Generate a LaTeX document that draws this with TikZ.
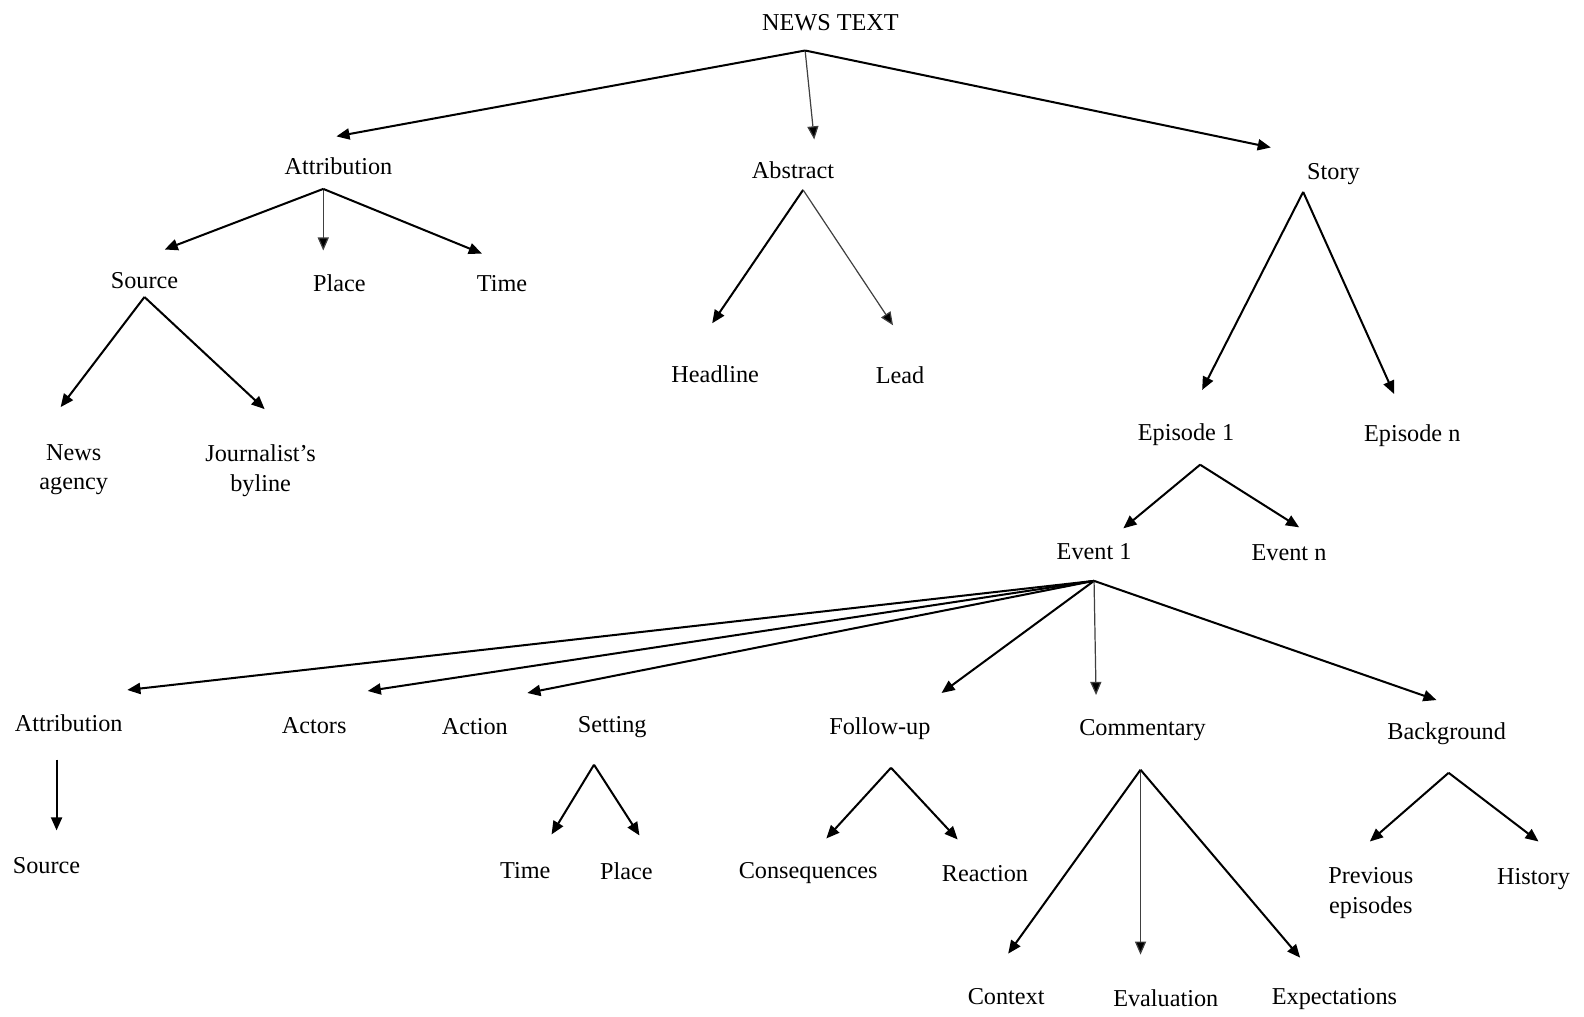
\documentclass[tikz,border=0pt]{standalone}
\usepackage{fontspec}
\setmainfont{Liberation Serif}
\usetikzlibrary{arrows.meta}
\begin{document}
\begin{tikzpicture}[x=0.5pt,y=-0.5pt,
  lbl/.style={inner sep=0pt,anchor=center,font=\fontsize{12}{14.5}\selectfont,align=center},
  arr/.style={line width=1pt,-{Triangle[length=6.5pt,width=5.5pt]}},
  thinarr/.style={line width=0.6pt,draw=black!75,-{Triangle[length=6.5pt,width=5.5pt,fill=black]}}]
\useasboundingbox (0,0) rectangle (1568,1006);
% nodes
\node[lbl] (news) at (822,22) {NEWS TEXT};
\node[lbl] (attr) at (335,165) {Attribution};
\node[lbl] (abs) at (785,168) {Abstract};
\node[lbl] (story) at (1320,172) {Story};
\node[lbl] (src) at (143,278) {Source};
\node[lbl] (place) at (336,280) {Place};
\node[lbl] (time) at (497,281) {Time};
\node[lbl] (head) at (708,370) {Headline};
\node[lbl] (lead) at (891,371) {Lead};
\node[lbl] (agency) at (73,465) {News\\agency};
\node[lbl] (jour) at (258,466) {Journalist’s\\byline};
\node[lbl] (ep1) at (1174,430) {Episode 1};
\node[lbl] (epn) at (1398,431) {Episode n};
\node[lbl] (ev1) at (1083,546) {Event 1};
\node[lbl] (evn) at (1276,547) {Event n};
\node[lbl] (attr2) at (68,716) {Attribution};
\node[lbl] (actors) at (311,718) {Actors};
\node[lbl] (action) at (470,719) {Action};
\node[lbl] (setting) at (606,720) {Setting};
\node[lbl] (follow) at (871,721) {Follow-up};
\node[lbl] (comm) at (1131,723) {Commentary};
\node[lbl] (backg) at (1432,726) {Background};
\node[lbl] (src2) at (46,857) {Source};
\node[lbl] (time2) at (520,862) {Time};
\node[lbl] (place2) at (620,862) {Place};
\node[lbl] (cons) at (800,864) {Consequences};
\node[lbl] (react) at (975,865) {Reaction};
\node[lbl] (context) at (996,987) {Context};
\node[lbl] (eval) at (1154,988) {Evaluation};
\node[lbl] (expect) at (1321,989) {Expectations};
\node[lbl] (prev) at (1357,884) {Previous\\episodes};
\node[lbl] (hist) at (1518,870) {History};
% connectors
\draw[arr] ([shift={(-25,28)}]news.center) -- ([shift={(-2,-30)}]attr.center);
\draw[thinarr] ([shift={(-25,28)}]news.center) -- ([shift={(21,-30)}]abs.center);
\draw[arr] ([shift={(-25,28)}]news.center) -- ([shift={(-62,-26)}]story.center);
\draw[arr] ([shift={(-15,22)}]attr.center) -- ([shift={(20,-31)}]src.center);
\draw[thinarr] ([shift={(-15,22)}]attr.center) -- ([shift={(-16,-32)}]place.center);
\draw[arr] ([shift={(-15,22)}]attr.center) -- ([shift={(-20,-30)}]time.center);
\draw[arr] ([shift={(10,20)}]abs.center) -- ([shift={(-3,-50)}]head.center);
\draw[thinarr] ([shift={(10,20)}]abs.center) -- ([shift={(-7,-49)}]lead.center);
\draw[arr] ([shift={(0,16)}]src.center) -- ([shift={(-13,-62)}]agency.center);
\draw[arr] ([shift={(0,16)}]src.center) -- ([shift={(4,-61)}]jour.center);
\draw[arr] ([shift={(-30,18)}]story.center) -- ([shift={(16,-44)}]ep1.center);
\draw[arr] ([shift={(-30,18)}]story.center) -- ([shift={(-18,-41)}]epn.center);
\draw[arr] ([shift={(14,30)}]ep1.center) -- ([shift={(29,-23)}]ev1.center);
\draw[arr] ([shift={(14,30)}]ep1.center) -- ([shift={(10,-25)}]evn.center);
\draw[arr] ([shift={(0,29)}]ev1.center) -- ([shift={(58,-33)}]attr2.center);
\draw[arr] ([shift={(0,29)}]ev1.center) -- ([shift={(53,-34)}]actors.center);
\draw[arr] ([shift={(0,29)}]ev1.center) -- ([shift={(52,-33)}]action.center);
\draw[arr] ([shift={(0,29)}]ev1.center) -- ([shift={(61,-35)}]follow.center);
\draw[thinarr] ([shift={(0,29)}]ev1.center) -- ([shift={(-46,-35)}]comm.center);
\draw[arr] ([shift={(0,29)}]ev1.center) -- ([shift={(-10,-33)}]backg.center);
\draw[arr] ([shift={(-12,36)}]attr2.center) -- ([shift={(10,-35)}]src2.center);
\draw[arr] ([shift={(-18,37)}]setting.center) -- ([shift={(26,-36)}]time2.center);
\draw[arr] ([shift={(-18,37)}]setting.center) -- ([shift={(13,-35)}]place2.center);
\draw[arr] ([shift={(11,39)}]follow.center) -- ([shift={(18,-34)}]cons.center);
\draw[arr] ([shift={(11,39)}]follow.center) -- ([shift={(-27,-34)}]react.center);
\draw[arr] ([shift={(-2,39)}]comm.center) -- ([shift={(2,-43)}]context.center);
\draw[thinarr] ([shift={(-2,39)}]comm.center) -- ([shift={(-25,-43)}]eval.center);
\draw[arr] ([shift={(-2,39)}]comm.center) -- ([shift={(-34,-41)}]expect.center);
\draw[arr] ([shift={(2,39)}]backg.center) -- ([shift={(-1,-51)}]prev.center);
\draw[arr] ([shift={(2,39)}]backg.center) -- ([shift={(5,-37)}]hist.center);
\end{tikzpicture}
\end{document}
